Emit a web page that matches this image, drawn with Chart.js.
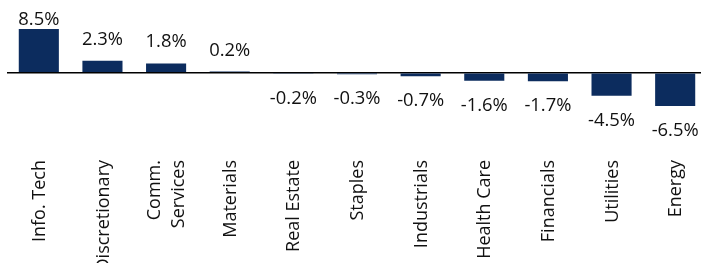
<!DOCTYPE html>
<html>
<head>
<meta charset="utf-8">
<script src="https://cdn.jsdelivr.net/npm/chart.js@4"></script>
<style>
  html, body { margin: 0; padding: 0; background: #fff; overflow: hidden; }
  #wrap { width: 701px; height: 263px; overflow: hidden; }
</style>
</head>
<body>
<div id="wrap"><canvas id="sectorChart" width="710" height="280"></canvas></div>
<script>
// sector returns, %
const sectors = ['Info. Tech', 'Discretionary', ['Comm.', 'Services'], 'Materials', 'Real Estate',
  'Staples', 'Industrials', 'Health Care', 'Financials', 'Utilities', 'Energy'];
const returns = [8.5, 2.3, 1.8, 0.2, -0.2, -0.3, -0.7, -1.6, -1.7, -4.5, -6.5];
const yMin = -6.5;
const yMax = 8.5;

const navy = '#0c2c5e';
const font = { family: '"Open Sans", sans-serif', size: 18 };
const textColor = '#111';

// value labels above / below each bar
const valueLabels = {
  id: 'valueLabels',
  afterDatasetsDraw(chart) {
    const { ctx } = chart;
    const meta = chart.getDatasetMeta(0);
    ctx.save();
    ctx.font = `18.4px ${font.family}`;
    ctx.fillStyle = textColor;
    ctx.textAlign = 'center';
    ctx.textBaseline = 'alphabetic';
    meta.data.forEach((bar, i) => {
      const v = returns[i];
      let y;
      if (v >= 0) {
        y = Math.max(bar.y - 16, 25);
      } else {
        y = bar.y + 30;
      }
      ctx.fillText(v.toFixed(1) + '%', bar.x, y);
    });
    ctx.restore();
  }
};

// rotated category labels, multi-line ones centred on the bar
const categoryLabels = {
  id: 'categoryLabels',
  afterDraw(chart) {
    const { ctx } = chart;
    const xScale = chart.scales.x;
    const top = chart.chartArea.bottom + 54;
    const lineH = 23.5;
    ctx.save();
    ctx.font = `${font.size}px ${font.family}`;
    ctx.fillStyle = textColor;
    ctx.textAlign = 'right';
    ctx.textBaseline = 'middle';
    sectors.forEach((label, i) => {
      const lines = Array.isArray(label) ? label : [label];
      const x = xScale.getPixelForTick(i);
      ctx.save();
      ctx.translate(x, top);
      ctx.rotate(-Math.PI / 2);
      lines.forEach((line, j) => {
        ctx.fillText(line, 0, (j - (lines.length - 1) / 2) * lineH + 1);
      });
      ctx.restore();
    });
    ctx.restore();
  }
};

new Chart(document.getElementById('sectorChart'), {
  type: 'bar',
  data: {
    labels: sectors,
    datasets: [{
      data: returns,
      backgroundColor: navy,
      borderWidth: 0,
      barPercentage: 1,
      categoryPercentage: 0.63
    }]
  },
  options: {
    responsive: false,
    animation: false,
    layout: { padding: { top: 29, left: 7, right: 3, bottom: 0 } },
    plugins: { legend: { display: false }, tooltip: { enabled: false } },
    scales: {
      x: {
        grid: { display: false, drawTicks: false },
        border: { display: false },
        afterFit: (scale) => {
          scale.height = 174;
          scale.paddingLeft = 0;
          scale.paddingRight = 0;
        },
        ticks: { display: false, autoSkip: false }
      },
      y: {
        display: true,
        min: yMin,
        max: yMax,
        afterFit: (scale) => { scale.width = 0; },
        ticks: { display: false, stepSize: 0.5 },
        border: { display: false },
        grid: {
          drawTicks: false,
          lineWidth: (c) => (c.tick && c.tick.value === 0 ? 1.5 : 0),
          color: (c) => (c.tick && c.tick.value === 0 ? '#000' : 'rgba(0,0,0,0)')
        }
      }
    }
  },
  plugins: [valueLabels, categoryLabels]
});
</script>
</body>
</html>
